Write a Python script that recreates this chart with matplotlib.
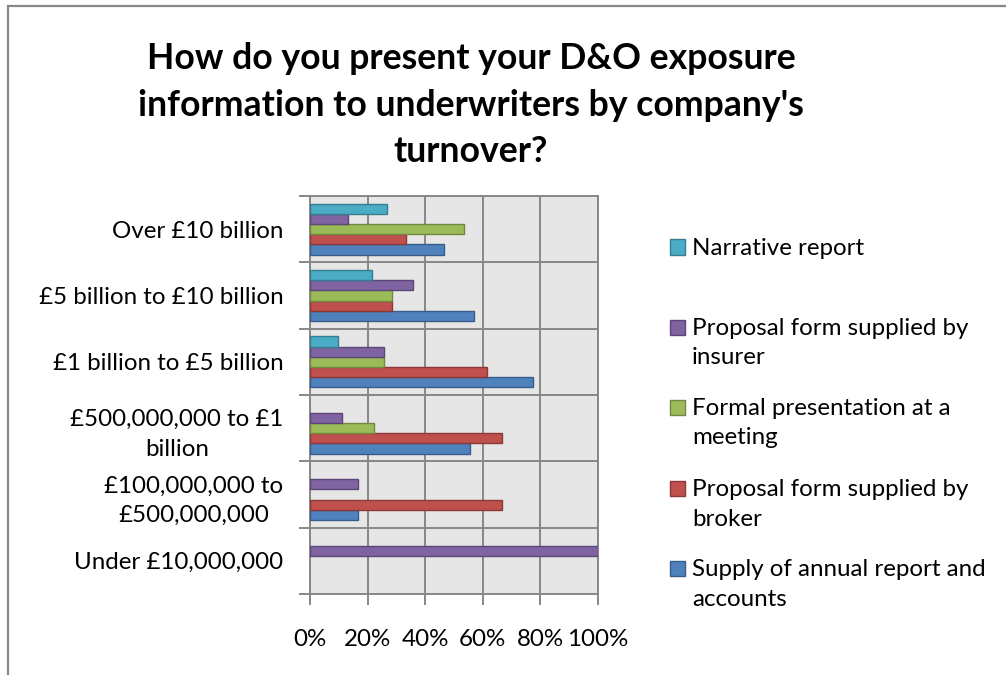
import numpy as np
import matplotlib.pyplot as plt
from matplotlib.patches import Rectangle

plt.rcParams['font.family'] = ['Lato', 'DejaVu Sans']

# Turnover bands, bottom to top
categories = ['Under £10,000,000', '£100,000,000 to\n£500,000,000',
              '£500,000,000 to £1\nbillion', '£1 billion to £5 billion',
              '£5 billion to £10 billion', 'Over £10 billion']

# Share of respondents (%) per band, same order as categories
annual = [0, 16.7, 55.6, 77.4, 57.1, 46.7]
broker = [0, 66.7, 66.7, 61.3, 28.6, 33.3]
formal = [0, 0, 22.2, 25.8, 28.6, 53.3]
insurer = [100, 16.7, 11.1, 25.8, 35.7, 13.3]
narrative = [0, 0, 0, 9.7, 21.4, 26.7]

series = [annual, broker, formal, insurer, narrative]
names = ['Supply of annual report and\naccounts', 'Proposal form supplied by\nbroker',
         'Formal presentation at a\nmeeting', 'Proposal form supplied by\ninsurer',
         'Narrative report']
colors = ['#4F81BD', '#C0504D', '#9BBB59', '#8064A2', '#4BACC6']
edges = ['#385D8A', '#8C3836', '#71893F', '#5C4776', '#357D91']

xticks = [0, 20, 40, 60, 80, 100]
xticklabels = ['0%', '20%', '40%', '60%', '80%', '100%']

W, H = 1006, 675
FS = 17.4
fig = plt.figure(figsize=(W / 100, H / 100), dpi=100)
fig.patch.set_facecolor('white')

# outer chart border (runs off the right and bottom edges)
fig.patches.append(Rectangle((8 / W, -0.1), 1.2, 1 - 6 / H + 0.1,
                             transform=fig.transFigure, fill=False,
                             edgecolor='#878787', linewidth=1.6))

ax = fig.add_axes([310 / W, 1 - 594 / H, 288 / W, 398 / H])
ax.set_facecolor('#E6E6E6')

y = np.arange(len(categories))
step = 0.154
for j, vals in enumerate(series):
    vals = np.array(vals, dtype=float)
    keep = vals > 0
    ax.barh(y[keep] + (j - 2) * step, vals[keep], height=step,
            color=colors[j], edgecolor=edges[j], linewidth=1.0, zorder=3)

ax.set_xlim(0, 100)
ax.set_ylim(-0.5, len(categories) - 0.5)
ax.set_xticks(xticks)
ax.set_xticklabels(xticklabels)
ax.set_yticks(np.arange(-0.5, len(categories)))
ax.set_yticklabels([])
ax.set_yticks(y, minor=True)
ax.set_yticklabels(categories, minor=True, ha='right', multialignment='center',
                   linespacing=1.5)

grid_col = '#878787'
ax.grid(True, which='major', color=grid_col, linewidth=1.4, zorder=1)
ax.set_axisbelow(True)
for s in ax.spines.values():
    s.set_color(grid_col)
    s.set_linewidth(1.4)

ax.tick_params(axis='y', which='major', length=8, width=1.4, color=grid_col)
ax.tick_params(axis='y', which='minor', length=0, pad=19, labelsize=FS)
ax.tick_params(axis='x', length=8, width=1.4, color=grid_col, pad=17,
               labelsize=FS)

fig.text(471 / W, 1 - 105 / H,
         "How do you present your D&O exposure\ninformation to underwriters by company's\nturnover?",
         ha='center', va='center', fontsize=25.7, fontweight='bold',
         linespacing=1.49)

# legend drawn by hand: square beside the first line of each entry
leg_y = [247, 327, 407, 488, 568]
for k, j in enumerate(range(len(series) - 1, -1, -1)):
    yc = 1 - leg_y[k] / H
    fig.patches.append(Rectangle((670 / W, yc - 7.5 / H), 15 / W, 15 / H,
                                 transform=fig.transFigure,
                                 facecolor=colors[j], edgecolor=edges[j],
                                 linewidth=1.0))
    fig.text(692 / W, yc + 9 / H, names[j], ha='left', va='top',
             fontsize=FS, linespacing=1.5)

fig.savefig('out.png', dpi=100)
